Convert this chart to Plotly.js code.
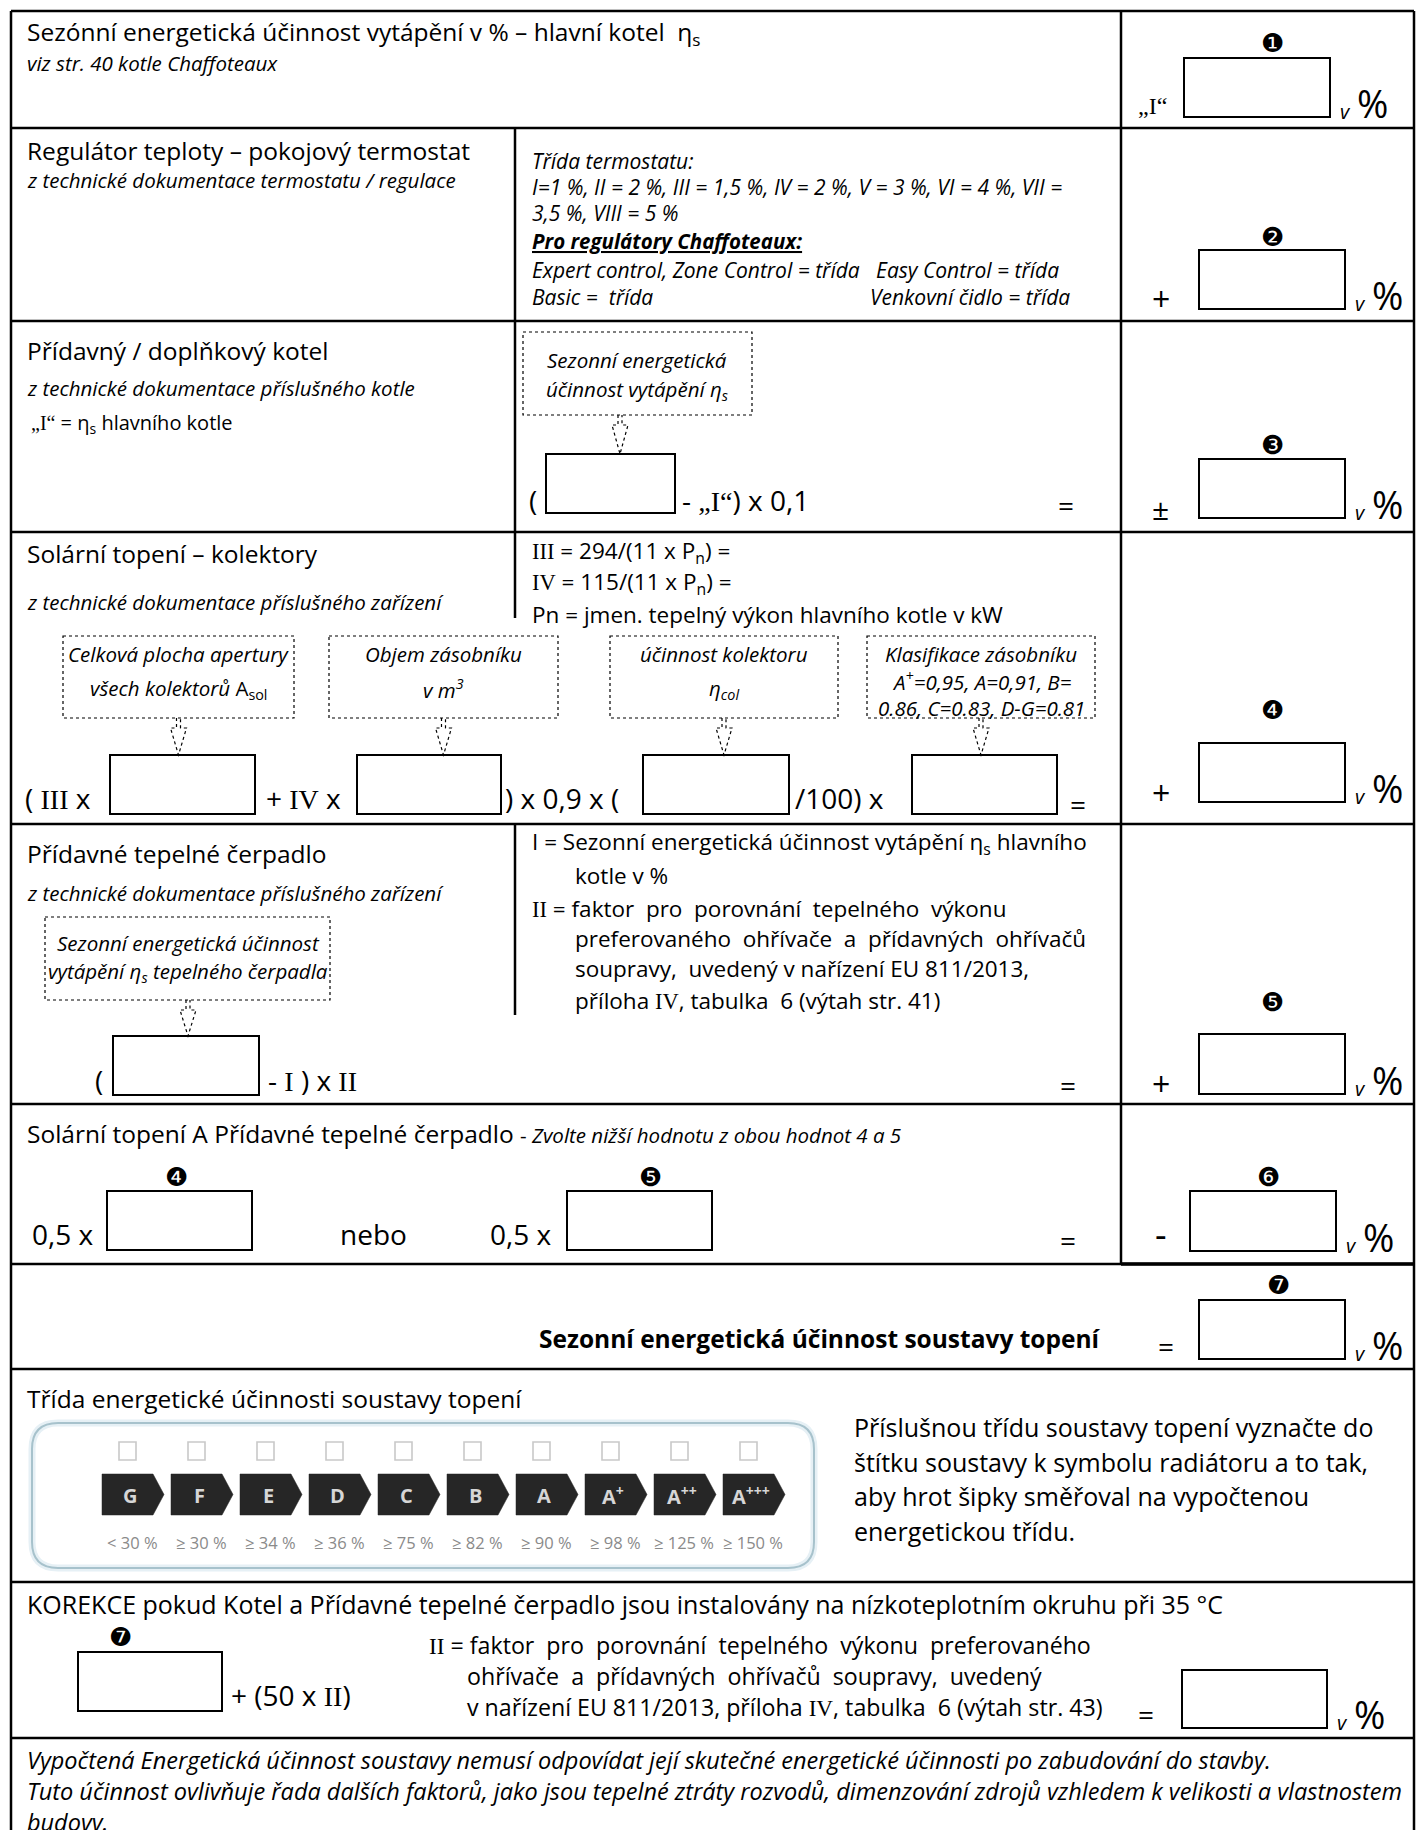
<!DOCTYPE html>
<html><head><meta charset="utf-8">
<script src="https://cdn.plot.ly/plotly-3.0.1.min.js"></script>
<style>html,body{margin:0;padding:0;background:#fff}</style>
</head><body><div id="chart" style="width:1416px;height:1830px"></div>
<script>
// ---- data ----
const energyClasses = ['G','F','E','D','C','B','A','A<sup>+</sup>','A<sup>++</sup>','A<sup>+++</sup>'];
const classThresholds = ['< 30 %','≥ 30 %','≥ 34 %','≥ 36 %','≥ 75 %','≥ 82 %','≥ 90 %','≥ 98 %','≥ 125 %','≥ 150 %'];
const stepMarks = ['❶','❷','❸','❹','❺','❻','❼'];
const thermostatLines = ['<i>Třída termostatu:</i>',
  '<i>I=1 %, II = 2 %, III = 1,5 %, IV = 2 %, V = 3 %, VI = 4 %, VII =</i>',
  '<i>3,5 %, VIII = 5 %</i>'];
const storageLines = ['<i>Klasifikace zásobníku</i>','<i>A<sup>+</sup>=0,95, A=0,91, B=</i>','<i>0.86, C=0.83, D-G=0.81</i>'];
const pumpNotes = ['I = Sezonní energetická účinnost vytápění η<sub>s</sub> hlavního','kotle v %',
  '<span style="font-family:Liberation Serif">II</span> = faktor \u00a0pro \u00a0porovnání \u00a0tepelného \u00a0výkonu',
  'preferovaného \u00a0ohřívače \u00a0a \u00a0přídavných \u00a0ohřívačů','soupravy, \u00a0uvedený v nařízení EU 811/2013,',
  'příloha <span style="font-family:Liberation Serif">IV</span>, tabulka \u00a06 (výtah str. 41)'];
const correctionNotes = ['<span style="font-family:Liberation Serif">II</span> = faktor \u00a0pro \u00a0porovnání \u00a0tepelného \u00a0výkonu \u00a0preferovaného',
  'ohřívače \u00a0a \u00a0přídavných \u00a0ohřívačů \u00a0soupravy, \u00a0uvedený','v nařízení EU 811/2013, příloha <span style="font-family:Liberation Serif">IV</span>, tabulka \u00a06 (výtah str. 43)'];
const classNote = ['Příslušnou třídu soustavy topení vyznačte do','štítku soustavy k symbolu radiátoru a to tak,','aby hrot šipky směřoval na vypočtenou','energetickou třídu.'];
const footerLines = ['Vypočtená Energetická účinnost soustavy nemusí odpovídat její skutečné energetické účinnosti po zabudování do stavby.',
  'Tuto účinnost ovlivňuje řada dalších faktorů, jako jsou tepelné ztráty rozvodů, dimenzování zdrojů vzhledem k velikosti a vlastnostem','budovy.'];

// ---- helpers ----
const FONT = 'Open Sans, Noto Sans, sans-serif';
const SERIF = 'Liberation Serif, serif';
const HS = 24.5, IS = 20.5, MS = 22.5, FS = 28;
const shapes = [], annotations = [];
function line(x0,y0,x1,y1,w,c,dash){shapes.push({type:'line',xref:'x',yref:'y',x0,y0,x1,y1,line:{color:c||'#000',width:w||2.5,dash:dash||'solid'}});}
function rect(x0,y0,x1,y1,w,c,dash){shapes.push({type:'rect',xref:'x',yref:'y',x0,y0,x1,y1,line:{color:c||'#000',width:w||2,dash:dash||'solid'},fillcolor:'rgba(0,0,0,0)'});}
function path(d,w,c,dash,fill){shapes.push({type:'path',xref:'x',yref:'y',path:d,line:{color:c||'#000',width:w,dash:dash||'solid'},fillcolor:fill||'rgba(0,0,0,0)'});}
function txt(x,y,text,size,o){o=o||{};annotations.push({x,y,xref:'x',yref:'y',text,showarrow:false,
  xanchor:o.xa||'left',yanchor:'middle',align:o.xa==='center'?'center':'left',
  font:{family:o.family||FONT,size:size,color:o.color||'#000'}});}
function mark(x,y,m){txt(x,y,m,26,{xa:'center',family:'DejaVu Sans'});}
function vpct(x,yb){txt(x,yb-6,'<i>v</i>',20);txt(x+17,yb-14,'%',38);}
function answer(x0,y0,x1,y1,m,mx,my){rect(x0,y0,x1,y1,2);if(m)mark(mx,my,m);vpct(x1+8,y1);}
function dArrow(cx,y0,y1){const hy=y0+10;
  path(`M${cx-2},${y0} L${cx-2},${hy} L${cx-8},${hy} L${cx},${y1} L${cx+8},${hy} L${cx+2},${hy} L${cx+2},${y0}`,1.2,'#000','dot');}
const ser = s=>'<span style="font-family:Liberation Serif">'+s+'</span>';

// ---- grid ----
const rowY = [11,128,321,532,824,1104,1264,1369,1582,1738];
rowY.forEach(y=>line(11,y,1414,y,2.5));
line(11,11,11,1830,2.5); line(1414,11,1414,1830,2.5);
line(515,128,515,618,2.5); line(515,824,515,1015,2.5);
line(1121,11,1121,1264,2.5);
line(1121,1264,1414,1264,3.5);

// ---- row 1 ----
txt(25,33,'Sezónní energetická účinnost vytápění v % – hlavní kotel \u00a0η<sub>s</sub>',HS);
txt(25,63,'<i>viz str. 40 kotle Chaffoteaux</i>',IS);
txt(1136,106,'„I“',24,{family:SERIF});
answer(1184,58,1330,117,stepMarks[0],1272,43);

// ---- row 2 ----
txt(25,150,'Regulátor teploty – pokojový termostat',HS);
txt(25,180,'<i>z technické dokumentace termostatu / regulace</i>',IS);
thermostatLines.forEach((t,i)=>txt(530,161+i*26,t,21));
txt(530,241,'<b><i><u>Pro regulátory Chaffoteaux:</u></i></b>',20.5);
txt(530,270,'<i>Expert control, Zone Control = třída \u00a0 Easy Control = třída</i>',21);
txt(530,297,'<i>Basic = \u00a0třída</i>',21);
txt(1072,297,'<i>Venkovní čidlo = třída</i>',21,{xa:'right'});
txt(1150,298,'+',32);
answer(1199,250,1345,309,stepMarks[1],1272,237);

// ---- row 3 ----
txt(25,350,'Přídavný / doplňkový kotel',HS);
txt(25,388,'<i>z technické dokumentace příslušného kotle</i>',IS);
txt(29,423,ser('„I“')+' = η<sub>s</sub> hlavního kotle',20);
rect(523,332,752,415,1.2,'#000','dot');
txt(637,360,'<i>Sezonní energetická</i>',IS,{xa:'center'});
txt(637,390,'<i>účinnost vytápění η<sub>s</sub></i>',IS,{xa:'center'});
dArrow(620,415,454);
txt(527,500,'(',FS);
rect(546,454,675,513,2);
txt(680,500,'- '+ser('„I“')+') x 0,1',FS);
txt(1056,505,'=',28);
txt(1150,508,'±',30);
answer(1199,459,1345,518,stepMarks[2],1272,445);

// ---- row 4 ----
txt(25,553,'Solární topení – kolektory',HS);
txt(25,602,'<i>z technické dokumentace příslušného zařízení</i>',IS);
txt(530,552,ser('III')+' = 294/(11 x P<sub>n</sub>) =',MS);
txt(530,583,ser('IV')+' = 115/(11 x P<sub>n</sub>) =',MS);
txt(530,614,'Pn = jmen. tepelný výkon hlavního kotle v kW',MS);
const dotBoxes = [[63,294,['<i>Celková plocha apertury</i>','<i>všech kolektorů</i> A<sub>sol</sub>']],
                  [329,558,['<i>Objem zásobníku</i>','<i>v m<sup>3</sup></i>']],
                  [610,838,['<i>účinnost kolektoru</i>','<i>η<sub>col</sub></i>']],
                  [867,1095,storageLines]];
dotBoxes.forEach(b=>{rect(b[0],636,b[1],718,1.2,'#000','dot');const cx=(b[0]+b[1])/2;
  const n=b[2].length; b[2].forEach((t,i)=>txt(cx,n===3?(654+i*27):(654+i*35),t,IS,{xa:'center'}));
  dArrow(cx,718,755);});
const f4 = [[110,255],[357,501],[643,789],[912,1057]];
f4.forEach(b=>rect(b[0],755,b[1],814,2));
txt(23,798,'( '+ser('III')+' x',FS);
txt(264,798,'+ '+ser('IV')+' x',FS);
txt(503,798,') x 0,9 x (',FS);
txt(793,798,'/100) x',FS);
txt(1068,804,'=',28);
txt(1150,792,'+',32);
answer(1199,743,1345,802,stepMarks[3],1272,710);

// ---- row 5 ----
txt(25,853,'Přídavné tepelné čerpadlo',HS);
txt(25,893,'<i>z technické dokumentace příslušného zařízení</i>',IS);
rect(45,917,330,1000,1.2,'#000','dot');
txt(188,943,'<i>Sezonní energetická účinnost</i>',IS,{xa:'center'});
txt(188,972,'<i>vytápění η<sub>s</sub> tepelného čerpadla</i>',IS,{xa:'center'});
dArrow(188,1000,1036);
txt(93,1080,'(',FS);
rect(113,1036,259,1095,2);
txt(266,1080,'- '+ser('I')+' ) x '+ser('II'),FS);
const pumpX=[530,573,530,573,573,573];
const pumpY=[843,875,908,938,968,1000];
pumpNotes.forEach((t,i)=>txt(pumpX[i],pumpY[i],t,MS));
txt(1058,1085,'=',28);
txt(1150,1083,'+',32);
answer(1199,1034,1345,1094,stepMarks[4],1272,1002);

// ---- row 6 ----
txt(25,1133,'Solární topení A Přídavné tepelné čerpadlo <span style="font-size:20.5px">- <i>Zvolte nižší hodnotu z obou hodnot 4 a 5</i></span>',HS);
txt(30,1234,'0,5 x',FS);
rect(107,1191,252,1250,2); mark(176,1177,stepMarks[3]);
txt(338,1234,'nebo',FS);
txt(488,1234,'0,5 x',FS);
rect(567,1191,712,1250,2); mark(650,1177,stepMarks[4]);
txt(1058,1240,'=',28);
txt(1153,1234,'-',36);
answer(1190,1191,1336,1251,stepMarks[5],1268,1177);

// ---- row 7 ----
txt(1103,1338,'<b>Sezonní energetická účinnost soustavy topení</b>',24.5,{xa:'right'});
txt(1156,1346,'=',28);
answer(1199,1300,1345,1359,stepMarks[6],1278,1285);

// ---- row 8 : energy class label ----
txt(25,1398,'Třída energetické účinnosti soustavy topení',HS);
const labelPath='M58,1423 L788,1423 Q814,1423 814,1449 L814,1542 Q814,1568 788,1568 L58,1568 Q32,1568 32,1542 L32,1449 Q32,1423 58,1423 Z';
path(labelPath,7,'#e6f0f5');
path(labelPath,2,'#a7c2cc');
energyClasses.forEach((c,i)=>{
  const x0 = 102 + i*69.0, y0=1474, y1=1515, bw=51, tip=11;
  path(`M${x0},${y0} L${x0+bw},${y0} L${x0+bw+tip},${(y0+y1)/2} L${x0+bw},${y1} L${x0},${y1} Z`,0.5,'#262626','solid','#262626');
  rect(x0+17,1442,x0+34,1460,1.6,'#c9c9c9');
  txt(x0+28,1495,'<b>'+c+'</b>',20,{xa:'center',color:'#d6d6d6'});
  txt(x0+30,1542,classThresholds[i],16.5,{xa:'center',color:'#8a8a8a'});
});
classNote.forEach((t,i)=>txt(852,1427+i*34.7,t,25));

// ---- row 9 ----
txt(25,1604,'KOREKCE pokud Kotel a Přídavné tepelné čerpadlo jsou instalovány na nízkoteplotním okruhu při 35 °C',25);
rect(78,1652,222,1711,2); mark(120,1637,stepMarks[6]);
txt(229,1695,'+ (50 x '+ser('II')+')',FS);
correctionNotes.forEach((t,i)=>txt(i===0?427:465,1645+i*31,t,23.2));
txt(1136,1714,'=',28);
answer(1182,1670,1327,1728,null,0,0);

// ---- row 10 ----
footerLines.forEach((t,i)=>txt(25,1760+i*31,'<i>'+t+'</i>',23.5));

const layout = {width:1416,height:1830,margin:{l:0,r:0,t:0,b:0},paper_bgcolor:'#fff',plot_bgcolor:'#fff',
  xaxis:{range:[0,1416],visible:false,fixedrange:true},
  yaxis:{range:[1830,0],visible:false,fixedrange:true},
  showlegend:false,shapes,annotations};
Plotly.newPlot('chart',[{x:[],y:[],type:'scatter'}],layout,{staticPlot:true});
</script></body></html>
